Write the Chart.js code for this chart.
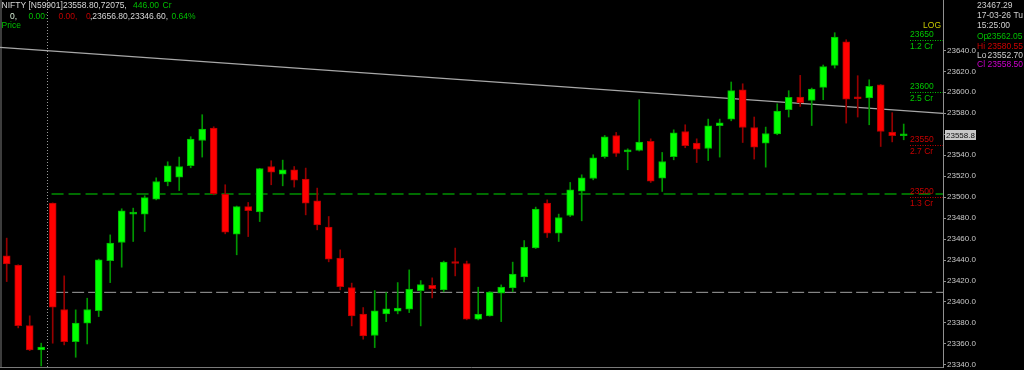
<!DOCTYPE html>
<html>
<head>
<meta charset="utf-8">
<script src="https://cdn.jsdelivr.net/npm/chart.js@4.4.1/dist/chart.umd.min.js"></script>
<style>
html, body { margin: 0; padding: 0; background: #000; }
#wrap { width: 1024px; height: 370px; }
</style>
</head>
<body>
<div id="wrap"><canvas id="niftyChart"></canvas></div>
<script>
// 5 minute NIFTY candles, oldest first
const opens = [23444.0, 23435.1, 23377.5, 23354.3, 23494.3, 23392.8, 23362.2, 23379.8, 23391.8, 23439.5,
  23456.7, 23483.8, 23483.8, 23498.1, 23514.6, 23519.1, 23529.9, 23554.0, 23565.9, 23502.9,
  23464.7, 23491.0, 23486.0, 23529.2, 23522.0, 23526.1, 23517.2, 23496.5, 23471.4, 23441.8,
  23413.8, 23388.4, 23368.0, 23388.7, 23391.2, 23393.1, 23410.9, 23416.0, 23411.6, 23438.3,
  23436.7, 23383.6, 23386.8, 23408.4, 23413.5, 23424.0, 23451.6, 23494.3, 23465.7, 23482.5,
  23505.7, 23517.8, 23538.5, 23558.8, 23543.2, 23544.5, 23553.1, 23518.2, 23538.5, 23562.6,
  23551.5, 23546.4, 23568.1, 23574.4, 23602.4, 23566.4, 23551.5, 23560.4, 23583.3, 23595.4,
  23592.2, 23604.6, 23625.6, 23648.2, 23595.1, 23594.5, 23607.2, 23562.05, 23558.5];
const highs = [23460.9, 23435.5, 23386.8, 23360.7, 23494.5, 23424.9, 23392.5, 23403.6, 23440.9, 23464.0,
  23488.9, 23489.5, 23501.3, 23518.4, 23533.7, 23538.2, 23557.6, 23578.6, 23567.1, 23511.8,
  23491.5, 23494.9, 23527.5, 23534.7, 23535.3, 23529.2, 23527.7, 23508.6, 23481.5, 23449.7,
  23418.0, 23394.7, 23410.9, 23409.0, 23418.5, 23430.6, 23420.4, 23423.0, 23439.0, 23451.4,
  23439.0, 23414.1, 23410.0, 23416.3, 23438.0, 23458.6, 23490.5, 23497.4, 23483.8, 23514.0,
  23521.3, 23540.4, 23558.8, 23561.7, 23546.1, 23592.9, 23555.6, 23542.6, 23564.2, 23569.0,
  23555.6, 23574.4, 23574.4, 23609.8, 23608.1, 23576.4, 23566.8, 23589.0, 23601.5, 23616.1,
  23604.0, 23626.0, 23656.8, 23650.1, 23615.8, 23611.9, 23607.5, 23580.55, 23569.7];
const lows = [23419.5, 23375.3, 23353.6, 23339.0, 23360.7, 23359.1, 23347.3, 23360.0, 23386.1, 23418.5,
  23433.2, 23457.7, 23467.2, 23497.4, 23510.8, 23506.3, 23528.0, 23538.2, 23502.2, 23465.0,
  23445.0, 23462.4, 23476.7, 23511.8, 23510.8, 23509.6, 23483.1, 23468.8, 23438.3, 23411.6,
  23377.2, 23364.5, 23356.5, 23381.3, 23388.7, 23389.9, 23377.2, 23403.9, 23409.7, 23424.9,
  23383.0, 23382.9, 23386.5, 23381.3, 23409.7, 23419.2, 23451.0, 23461.5, 23457.7, 23481.5,
  23477.4, 23516.5, 23537.2, 23538.8, 23526.1, 23544.0, 23514.0, 23505.4, 23535.6, 23547.1,
  23533.0, 23534.9, 23538.2, 23572.8, 23552.1, 23536.3, 23528.6, 23559.5, 23576.4, 23586.5,
  23568.3, 23592.9, 23623.1, 23570.6, 23576.4, 23569.0, 23548.3, 23552.7, 23554.7];
const closes = [23436.4, 23377.5, 23354.3, 23356.9, 23395.1, 23362.2, 23379.8, 23392.8, 23440.2, 23456.1,
  23486.9, 23485.3, 23499.6, 23514.9, 23529.9, 23529.2, 23555.4, 23564.9, 23503.2, 23466.6,
  23491.0, 23487.2, 23527.3, 23523.9, 23526.1, 23516.2, 23494.3, 23473.6, 23440.9, 23414.7,
  23386.8, 23367.7, 23391.5, 23393.4, 23394.1, 23412.2, 23416.6, 23412.8, 23438.0, 23436.7,
  23383.6, 23388.4, 23409.4, 23414.1, 23426.5, 23452.3, 23488.6, 23465.7, 23480.6, 23507.0,
  23518.4, 23537.5, 23557.6, 23541.6, 23544.5, 23552.5, 23515.3, 23534.0, 23561.4, 23549.0,
  23545.8, 23568.1, 23570.9, 23601.5, 23566.4, 23547.7, 23560.7, 23582.1, 23595.1, 23590.0,
  23603.1, 23624.4, 23652.7, 23593.5, 23593.8, 23605.6, 23562.6, 23558.5, 23559.5];

const priceTicks = [23340, 23360, 23380, 23400, 23420, 23440, 23460, 23480, 23500,
  23520, 23540, 23560, 23580, 23600, 23620, 23640];
const profileLevels = [23650, 23600, 23550, 23500];
const profileVolumes = ['1.2 Cr', '2.5 Cr', '2.7 Cr', '1.3 Cr'];

const lastPrice = 23558.8;
const trendStart = 23642.8;
const trendEnd = 23579.8;
const supportLevel = 23503;
const supportFrom = 4.9;
const gapLevel = 23409.2;
const gapFrom = 5.3;
const crossX = 4.5;
const crossInfo = ['23467.29', '17-03-26 Tu', '15:25:00'];
const infoBar = 77; // candle shown in the OHLC box

const xMin = 0.417, xMax = 82.417;

const isUp = i => closes[i] >= opens[i];

const wickData = highs.map((h, i) => ({x: i + 1, y: [lows[i], h]}));
const bodyData = opens.map((o, i) => ({x: i + 1, y: [o, closes[i]]}));

const chartBg = {
  id: 'chartBg',
  beforeDraw(chart) {
    const {ctx, width, height} = chart;
    ctx.save();
    ctx.fillStyle = '#000';
    ctx.fillRect(0, 0, width, height);
    ctx.restore();
  }
};

function txt(ctx, s, x, y, color, align) {
  ctx.fillStyle = color;
  ctx.textAlign = align || 'left';
  ctx.fillText(s, x, y);
}

const overlay = {
  id: 'overlay',
  beforeDatasetsDraw(chart) {
    const {ctx, chartArea, scales} = chart;
    ctx.save();
    // crosshair
    const cx = Math.round(scales.x.getPixelForValue(crossX)) + 0.5;
    ctx.strokeStyle = '#9a9a9a';
    ctx.lineWidth = 1;
    ctx.setLineDash([1, 2]);
    ctx.beginPath();
    ctx.moveTo(cx, 0);
    ctx.lineTo(cx, chartArea.bottom);
    ctx.stroke();
    ctx.setLineDash([]);
    // frame
    ctx.strokeStyle = '#7a7a7a';
    ctx.beginPath();
    ctx.moveTo(1, 0);
    ctx.lineTo(1, chartArea.bottom);
    ctx.moveTo(0, chartArea.bottom + 0.5);
    ctx.lineTo(chartArea.right, chartArea.bottom + 0.5);
    ctx.stroke();
    ctx.restore();
  },
  afterDraw(chart) {
    const {ctx, chartArea, scales} = chart;
    const y = scales.y;
    ctx.save();
    ctx.font = '8.5px "Liberation Sans", Arial, sans-serif';
    ctx.textBaseline = 'middle';

    // volume profile markers
    const px = chartArea.right - 33;
    txt(ctx, 'LOG', chartArea.right - 2, 26, '#c8c800', 'right');
    profileLevels.forEach((lv, i) => {
      const ly = Math.round(y.getPixelForValue(lv)) + 0.5;
      const col = lv > lastPrice ? '#00c800' : '#c80000';
      ctx.strokeStyle = col;
      ctx.lineWidth = 1;
      ctx.setLineDash([1, 1.5]);
      ctx.beginPath();
      ctx.moveTo(px, ly);
      ctx.lineTo(chartArea.right, ly);
      ctx.stroke();
      ctx.setLineDash([]);
      txt(ctx, String(lv), px, ly - 5.5, col);
      txt(ctx, profileVolumes[i], px, ly + 6.5, col);
    });

    // last price box
    const lp = y.getPixelForValue(lastPrice);
    ctx.fillStyle = '#c8c8c8';
    ctx.fillRect(chartArea.right + 2, Math.round(lp) - 5, 31, 10);
    ctx.font = '8px "Liberation Sans", Arial, sans-serif';
    txt(ctx, lastPrice.toFixed(1), chartArea.right + 3, lp, '#111');

    // header
    ctx.font = '8.5px "Liberation Sans", Arial, sans-serif';
    txt(ctx, 'NIFTY [N59901]23558.80,72075,', 1.5, 5.5, '#d8d8d8');
    txt(ctx, '446.00', 133, 5.5, '#00c000');
    txt(ctx, 'Cr', 162.5, 5.5, '#00c000');
    txt(ctx, '0,', 10, 16.5, '#d8f0d8');
    txt(ctx, '0.00:', 28.5, 16.5, '#00c000');
    txt(ctx, '0.00,', 58.5, 16.5, '#c00000');
    txt(ctx, '0', 86, 16.5, '#c00000');
    txt(ctx, ',23656.80,23346.60,', 90, 16.5, '#d8d8d8');
    txt(ctx, '0.64%', 171.5, 16.5, '#00c000');
    txt(ctx, 'Price', 1.5, 26, '#00c000');

    // crosshair / OHLC info
    const ix = 977;
    txt(ctx, crossInfo[0], ix, 6, '#d0d0d0');
    txt(ctx, crossInfo[1], ix, 16, '#d0d0d0');
    txt(ctx, crossInfo[2], ix, 26, '#d0d0d0');
    txt(ctx, 'Op', ix, 37, '#00c000');
    txt(ctx, opens[infoBar].toFixed(2), ix + 10, 37, '#00c000');
    txt(ctx, 'Hi', ix, 46.5, '#d00000');
    txt(ctx, highs[infoBar].toFixed(2), ix + 10.5, 46.5, '#d00000');
    txt(ctx, 'Lo', ix, 55.5, '#d0d0d0');
    txt(ctx, lows[infoBar].toFixed(2), ix + 10.5, 55.5, '#d0d0d0');
    txt(ctx, 'Cl', ix, 65, '#d000d0');
    txt(ctx, closes[infoBar].toFixed(2), ix + 10.5, 65, '#d000d0');
    ctx.restore();
  }
};

const ctx = document.getElementById('niftyChart').getContext('2d');
const niftyChart = new Chart(ctx, {
  type: 'bar',
  data: {
    datasets: [
      {
        type: 'line',
        data: [{x: xMin, y: trendStart}, {x: xMax, y: trendEnd}],
        borderColor: '#a8a8a8',
        borderWidth: 1.2,
        pointRadius: 0,
        order: 5
      },
      {
        type: 'line',
        data: [{x: supportFrom, y: supportLevel}, {x: xMax, y: supportLevel}],
        borderColor: '#009000',
        borderWidth: 1.5,
        borderDash: [12, 5],
        pointRadius: 0,
        order: 4
      },
      {
        type: 'line',
        data: [{x: gapFrom, y: gapLevel}, {x: xMax, y: gapLevel}],
        borderColor: '#a0a0a0',
        borderWidth: 1,
        borderDash: [12, 4],
        pointRadius: 0,
        order: 3
      },
      {
        label: 'wick',
        data: wickData,
        grouped: false,
        barThickness: 1,
        borderWidth: 0,
        backgroundColor: c => isUp(c.dataIndex) ? '#009600' : '#960000',
        order: 2
      },
      {
        label: 'body',
        data: bodyData,
        grouped: false,
        barThickness: 7,
        minBarLength: 2,
        borderWidth: 1,
        borderSkipped: false,
        backgroundColor: c => isUp(c.dataIndex) ? '#00ff00' : '#ff0000',
        borderColor: c => isUp(c.dataIndex) ? '#00b400' : '#b40000',
        order: 1
      }
    ]
  },
  options: {
    responsive: true,
    maintainAspectRatio: false,
    animation: false,
    layout: { padding: { left: 0, right: 0, top: 0, bottom: 3 } },
    plugins: {
      legend: { display: false },
      tooltip: { enabled: false }
    },
    scales: {
      x: {
        type: 'linear',
        offset: false,
        min: xMin,
        max: xMax,
        display: false
      },
      y: {
        type: 'linear',
        position: 'right',
        min: 23338,
        max: 23688,
        afterBuildTicks: s => { s.ticks = priceTicks.map(v => ({value: v})); },
        afterFit: s => { s.width = 81; s.paddingTop = 0; s.paddingBottom = 0; },
        border: { display: true, color: '#909090', width: 1 },
        grid: { drawOnChartArea: false, drawTicks: true, tickLength: 3, color: '#909090' },
        ticks: {
          color: '#c8c8c8',
          padding: 1,
          font: { family: '"Liberation Sans", Arial, sans-serif', size: 8 },
          callback: v => Number(v).toFixed(1)
        }
      }
    }
  },
  plugins: [chartBg, overlay]
});
</script>
</body>
</html>
